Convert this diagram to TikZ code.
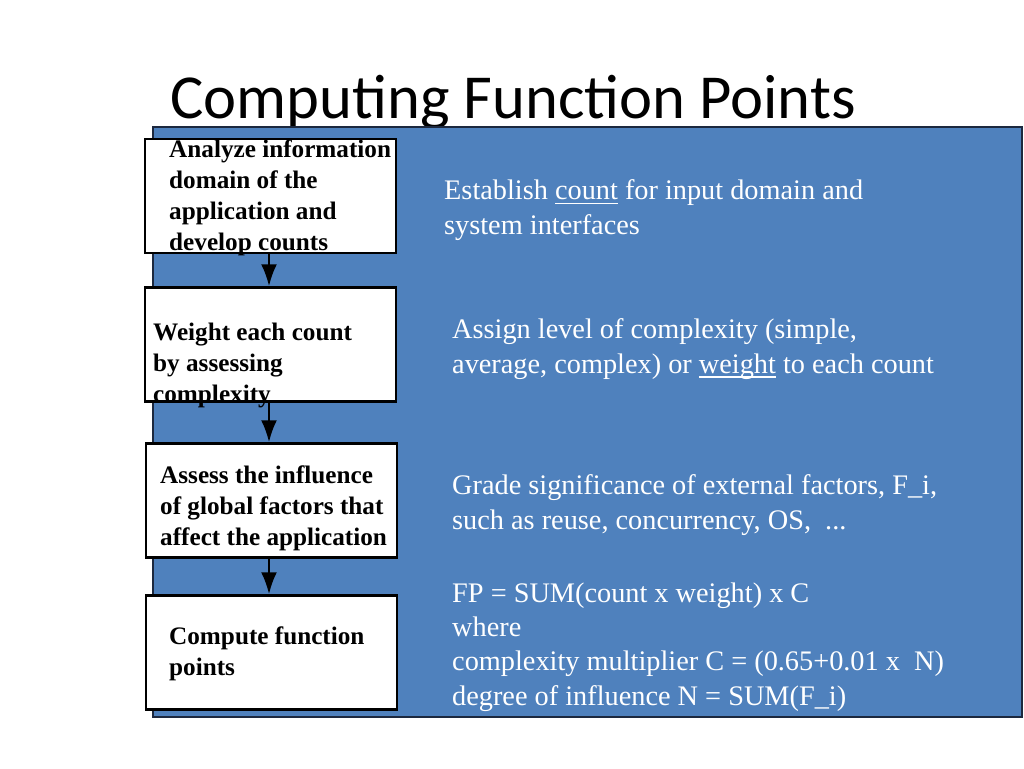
\documentclass[tikz,border=0pt]{standalone}
\usepackage{fontspec}
\setmainfont{Liberation Serif}
\newfontfamily\titlefont{Carlito}
\usetikzlibrary{arrows.meta}
\definecolor{panelblue}{RGB}{79,129,189}
\definecolor{paneledge}{RGB}{28,40,62}
% underline at a fixed depth, through descenders
\newcommand\ulword[1]{\setbox0\hbox{#1}\rlap{\rule[-4.5pt]{\wd0}{1.6pt}}#1}

\tikzset{
	stepbox/.style={draw=black, line width=2.5pt, fill=white, minimum width=251pt, minimum height=114pt, inner sep=0pt},
	steptext/.style={anchor=base west, align=left, inner sep=0pt, font=\fontsize{25.2}{30.7}\selectfont\bfseries},
	notetext/.style={anchor=base west, align=left, inner sep=0pt, text=white, font=\fontsize{28.3}{34.3}\selectfont},
	flow/.style={-{Latex[length=22pt,width=16pt]}, line width=2.5pt}
}

\begin{document}
\begin{tikzpicture}[x=1pt,y=-1pt]
	\useasboundingbox (0,0) rectangle (1024,768);
	\node[anchor=base west, inner sep=0pt, font=\titlefont\fontsize{62.6}{62.6}\selectfont] (title) at (170,118) {Computing Function Points};
	% panel
	\filldraw[fill=panelblue, draw=paneledge, line width=1.5pt] (153,127) rectangle (1022,717);
	% steps
	\node[stepbox] (analyze) at (270.5,196) {};
	\node[stepbox] (weight) at (270.5,344.5) {};
	\node[stepbox] (assess) at (271.5,500.5) {};
	\node[stepbox] (compute) at (271.5,652.5) {};
	\draw[flow] (analyze.south -| 269,0) -- (weight.north -| 269,0);
	\draw[flow] (weight.south -| 269,0) -- (assess.north -| 269,0);
	\draw[flow] (assess.south -| 269,0) -- (compute.north -| 269,0);
	% text of the steps (anchored on the last line)
	\node[steptext] (analyzetxt) at (169,250) {Analyze information\\domain of the\\application and\\develop counts};
	\node[steptext] (weighttxt) at (153,402) {Weight each count\\by assessing\\complexity};
	\node[steptext] (assesstxt) at (160,545) {Assess the influence\\of global factors that\\affect the application};
	\node[steptext] (computetxt) at (169,675) {Compute function\\points};
	% notes
	\node[notetext] (countnote) at (444,234) {Establish \ulword{count} for input domain and\\system interfaces};
	\node[notetext] (weightnote) at (452,373) {Assign level of complexity (simple,\\average, complex) or \ulword{weight} to each count};
	\node[notetext] (factornote) at (452,529) {Grade significance of external factors, F\_i,\\such as reuse, concurrency, OS,\ \ ...};
	\node[notetext] (fpnote) at (452,705) {FP = SUM(count x weight) x C\\where\\complexity multiplier C = (0.65+0.01 x\ \ N)\\degree of influence N = SUM(F\_i)};
\end{tikzpicture}
\end{document}
